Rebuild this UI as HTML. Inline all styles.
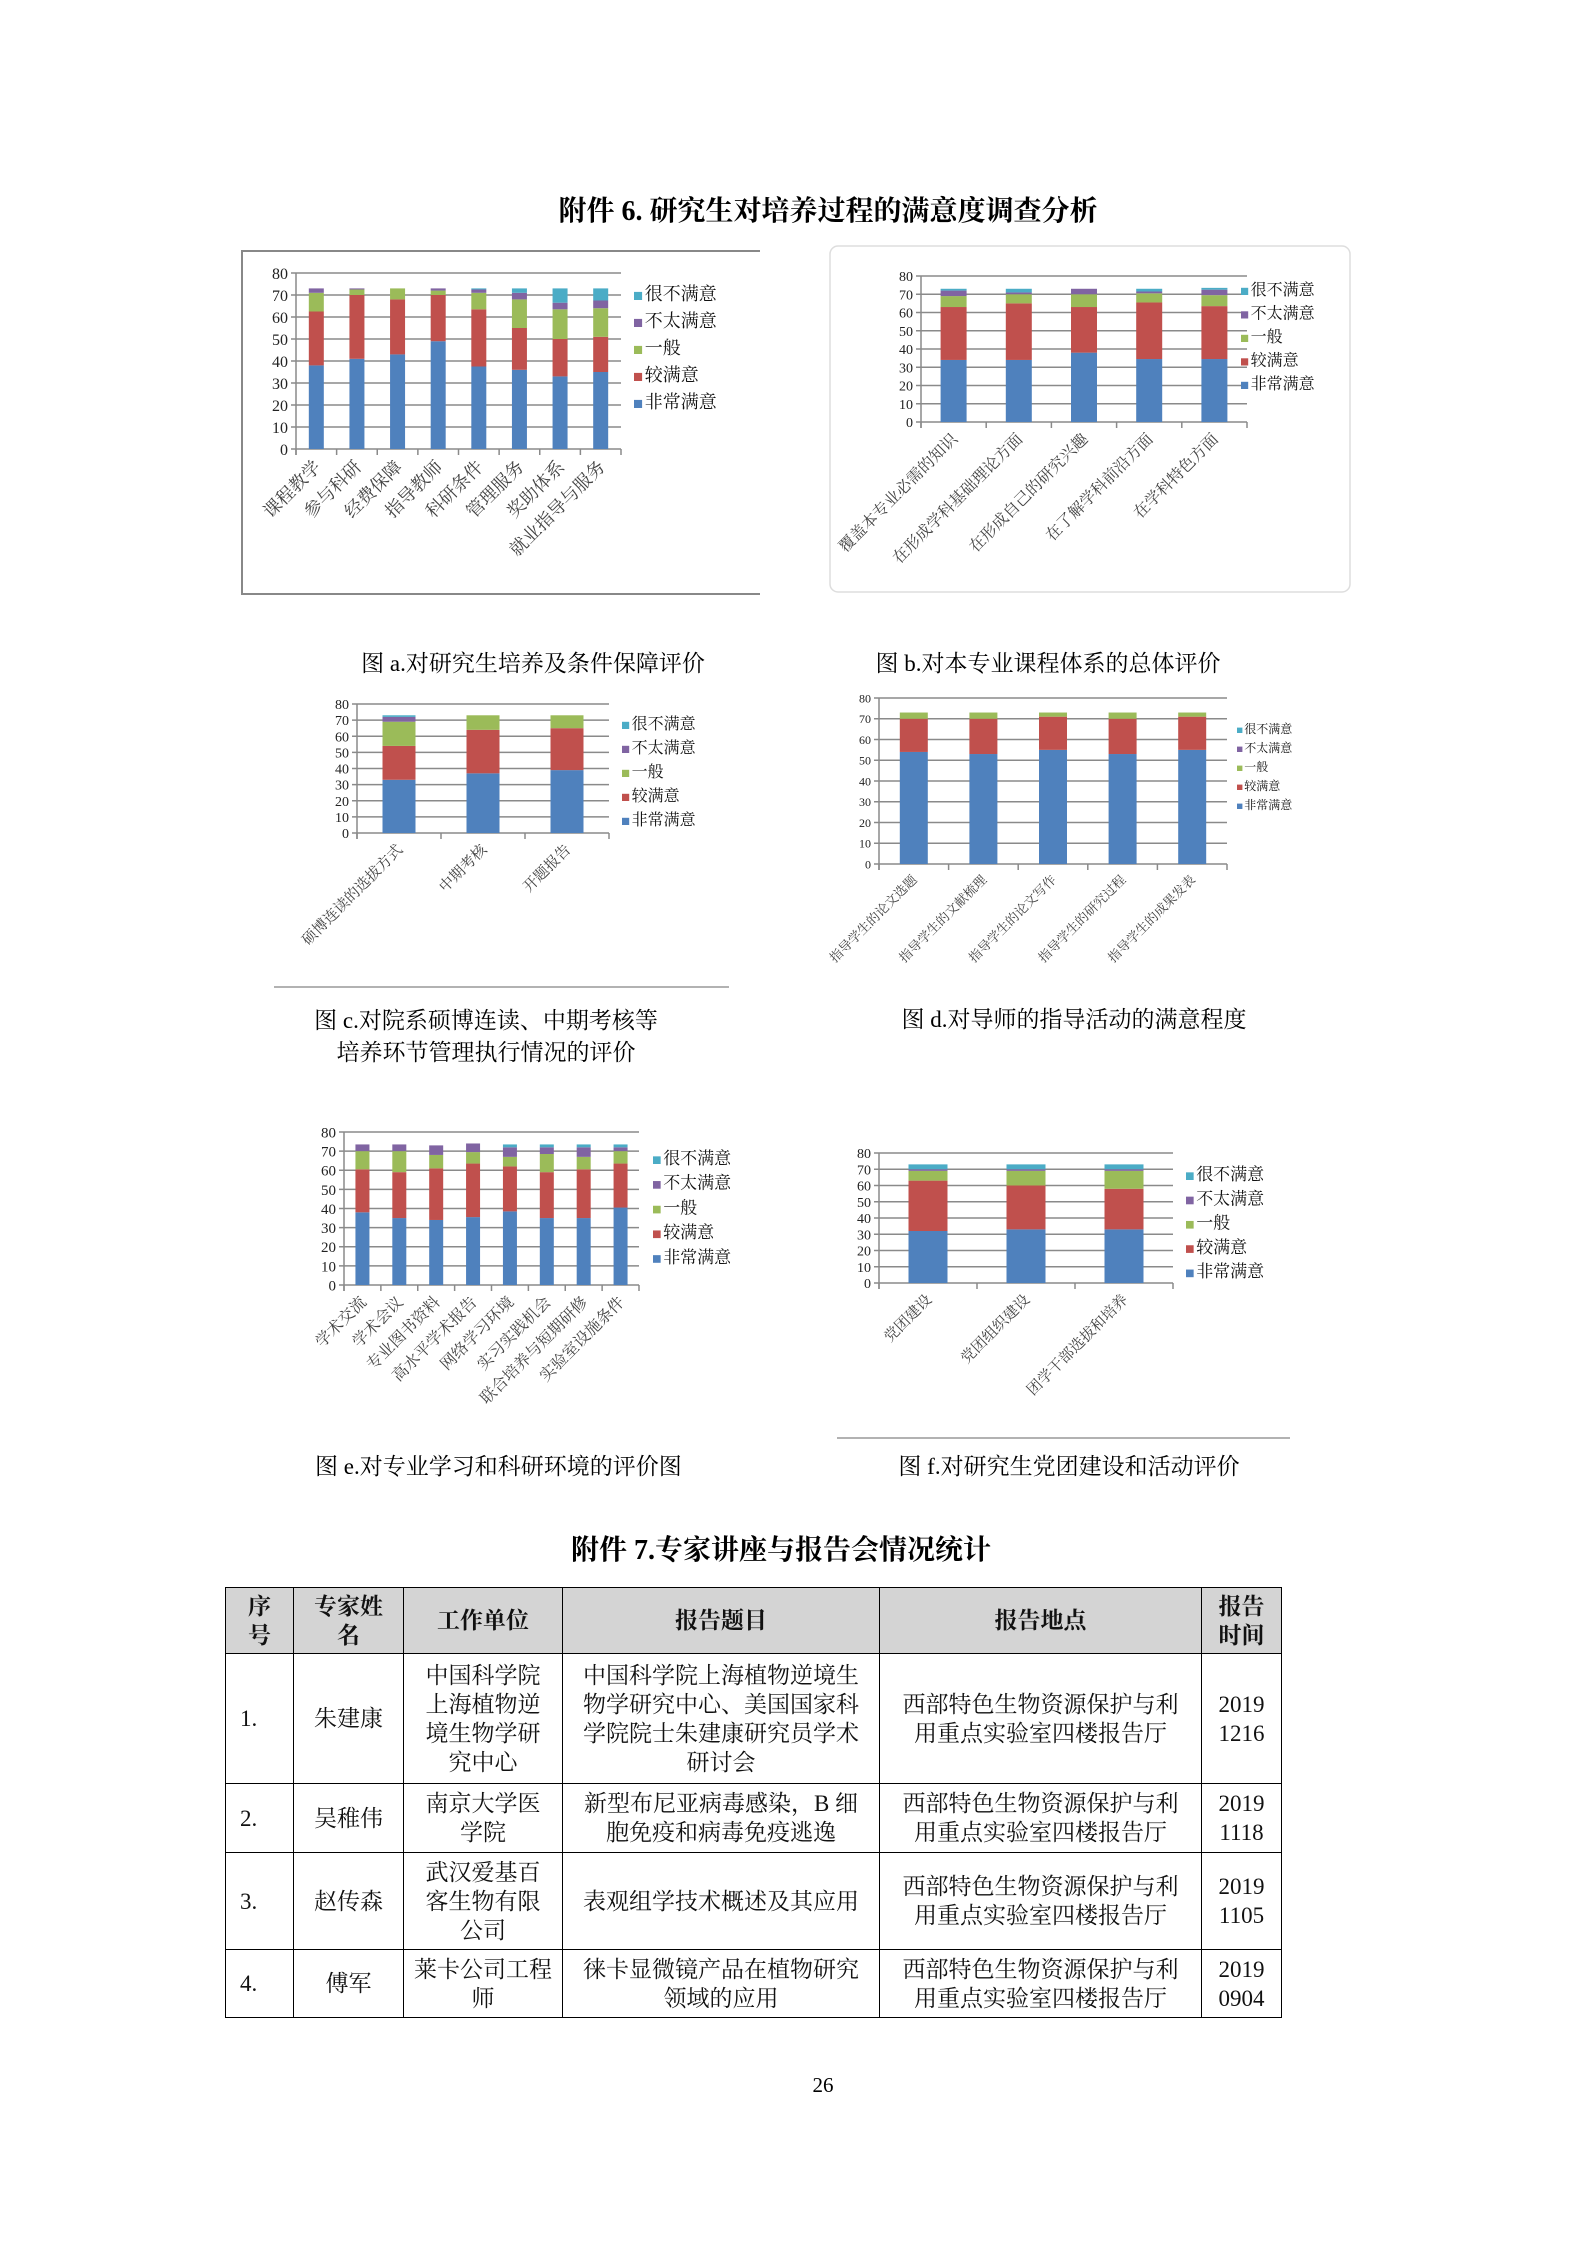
<!DOCTYPE html>
<html><head><meta charset="utf-8">
<style>
body{margin:0;background:#fff;}
#pg{position:relative;width:1587px;height:2245px;overflow:hidden;background:#fff;font-family:"Liberation Serif","Noto Serif CJK SC",serif;}
svg{position:absolute;left:0;top:0;}
table{position:absolute;left:225px;top:1587px;width:1056px;table-layout:fixed;border-collapse:collapse;font-family:"Liberation Serif","Noto Serif CJK SC",serif;font-size:23px;line-height:29px;color:#111;}
td,th{border:1.5px solid #000;text-align:center;vertical-align:middle;padding:0;overflow:hidden;white-space:nowrap;}
th{background:#d4d4d4;font-weight:bold;}
td.l{text-align:left;padding-left:14px;}
</style></head><body>
<div id="pg">
<svg id="sv" width="1587" height="2245" xmlns="http://www.w3.org/2000/svg"></svg>
<table>
<colgroup><col style="width:68px"><col style="width:110px"><col style="width:159px"><col style="width:317px"><col style="width:322px"><col style="width:80px"></colgroup>
<tr style="height:66px"><th>序<br>号</th><th>专家姓<br>名</th><th>工作单位</th><th>报告题目</th><th>报告地点</th><th>报告<br>时间</th></tr>
<tr style="height:130px"><td class="l">1.</td><td>朱建康</td><td>中国科学院<br>上海植物逆<br>境生物学研<br>究中心</td><td>中国科学院上海植物逆境生<br>物学研究中心、美国国家科<br>学院院士朱建康研究员学术<br>研讨会</td><td>西部特色生物资源保护与利<br>用重点实验室四楼报告厅</td><td>2019<br>1216</td></tr>
<tr style="height:69px"><td class="l">2.</td><td>吴稚伟</td><td>南京大学医<br>学院</td><td>新型布尼亚病毒感染，B 细<br>胞免疫和病毒免疫逃逸</td><td>西部特色生物资源保护与利<br>用重点实验室四楼报告厅</td><td>2019<br>1118</td></tr>
<tr style="height:97px"><td class="l">3.</td><td>赵传森</td><td>武汉爱基百<br>客生物有限<br>公司</td><td>表观组学技术概述及其应用</td><td>西部特色生物资源保护与利<br>用重点实验室四楼报告厅</td><td>2019<br>1105</td></tr>
<tr style="height:68px"><td class="l">4.</td><td>傅军</td><td>莱卡公司工程<br>师</td><td>徕卡显微镜产品在植物研究<br>领域的应用</td><td>西部特色生物资源保护与利<br>用重点实验室四楼报告厅</td><td>2019<br>0904</td></tr>
</table>
</div>
<script>
const C=['#4f81bd','#c0504d','#9bbb59','#8064a2','#4bacc6'];
const LN=['很不满意','不太满意','一般','较满意','非常满意'];
const SANS='"Liberation Sans","Noto Sans CJK SC",sans-serif';
const SERIF='"Liberation Serif","Noto Serif CJK SC",serif';
let s='';
function chart(o){
 const n=o.cats.length,cw=(o.x1-o.x0)/n,h=o.yb-o.yt;
 for(let v=0;v<=80;v+=10){const y=o.yb-v/80*h;
  s+=`<line x1="${o.x0-5}" y1="${y}" x2="${o.x1}" y2="${y}" stroke="#8a8a8a" stroke-width="1.5"/>`;
  s+=`<text x="${o.x0-8}" y="${y+o.fs*0.36}" font-size="${o.fs}" text-anchor="end" font-family="${SANS}" fill="#222">${v}</text>`;}
 s+=`<line x1="${o.x0}" y1="${o.yt}" x2="${o.x0}" y2="${o.yb+6}" stroke="#8a8a8a" stroke-width="1.5"/>`;
 for(let i=0;i<=n;i++){const x=o.x0+i*cw;s+=`<line x1="${x}" y1="${o.yb}" x2="${x}" y2="${o.yb+6}" stroke="#8a8a8a" stroke-width="1.5"/>`;}
 o.data.forEach((d,i)=>{const cx=o.x0+(i+.5)*cw;let acc=0;
  d.forEach((v,k)=>{if(!v)return;const y1=o.yb-(acc+v)/80*h,hh=v/80*h;
   s+=`<rect x="${cx-o.bw/2}" y="${y1}" width="${o.bw}" height="${hh}" fill="${C[k]}"/>`;acc+=v;});
  const tx=cx+o.cfs*0.3,ty=o.yb+10+o.cfs*0.5;
  s+=`<text x="${tx}" y="${ty}" font-size="${o.cfs}" text-anchor="end" font-family="${SERIF}" fill="#444" transform="rotate(-45 ${tx} ${ty})">${o.cats[i]}</text>`;});
 for(let k=0;k<5;k++){const y=o.ly+k*o.ldy;
  s+=`<rect x="${o.lx}" y="${y-o.lfs*0.45}" width="${o.lfs*0.45}" height="${o.lfs*0.45}" fill="${C[4-k]}"/>`;
  s+=`<text x="${o.lx+o.lfs*0.6}" y="${y}" font-size="${o.lfs}" font-family="${SANS}" fill="#111">${LN[k]}</text>`;}
}
s+=`<text x="828" y="220" font-size="28" font-weight="bold" text-anchor="middle" font-family="${SERIF}">附件 6.  研究生对培养过程的满意度调查分析</text>`;
s+=`<path d="M760 251 H242 V594 H760" fill="none" stroke="#888" stroke-width="2"/>`;
s+=`<rect x="830" y="246" width="520" height="346" rx="8" fill="none" stroke="#ddd" stroke-width="1.5"/>`;
chart({x0:296,x1:621,yt:273,yb:449,bw:15,fs:16,lfs:18,cfs:18,lx:634,ly:300,ldy:27,
 cats:['课程教学','参与科研','经费保障','指导教师','科研条件','管理服务','奖助体系','就业指导与服务'],
 data:[[38,24.5,8.5,2,0],[41,29,2.5,.5,0],[43,25,5,0,0],[49,21,2,1,0],[37.5,26,7.5,1.5,.5],[36,19,13,3,2],[33,17,13.5,3,6.5],[35,16,13,3.5,5.5]]});
chart({x0:921,x1:1247,yt:276,yb:422,bw:26,fs:14,lfs:16,cfs:16,lx:1241,ly:295,ldy:23.5,
 cats:['覆盖本专业必需的知识','在形成学科基础理论方面','在形成自己的研究兴趣','在了解学科前沿方面','在学科特色方面'],
 data:[[34,29,6,3,1],[34,31,5,1,2],[38,25,7,3,0],[34.5,31,5,1,1.5],[34.5,29,6,3,1]]});
s+=`<text x="533" y="671" font-size="23" text-anchor="middle" font-family="${SERIF}">图 a.对研究生培养及条件保障评价</text>`;
s+=`<text x="1048" y="671" font-size="23" text-anchor="middle" font-family="${SERIF}">图 b.对本专业课程体系的总体评价</text>`;
chart({x0:357,x1:609,yt:704,yb:833,bw:33,fs:14,lfs:16,cfs:15,lx:622,ly:729,ldy:24,
 cats:['硕博连读的选拔方式','中期考核','开题报告'],
 data:[[33,21,15,3,1],[37,27,9,0,0],[39,26,8,0,0]]});
chart({x0:879,x1:1227,yt:698,yb:864,bw:28,fs:12,lfs:12,cfs:13,lx:1237,ly:733,ldy:19,
 cats:['指导学生的论文选题','指导学生的文献梳理','指导学生的论文写作','指导学生的研究过程','指导学生的成果发表'],
 data:[[54,16,3,0,0],[53,17,3,0,0],[55,16,2,0,0],[53,17,3,0,0],[55,16,2,0,0]]});
s+=`<line x1="274" y1="987" x2="729" y2="987" stroke="#999" stroke-width="1.5"/>`;
s+=`<text x="486" y="1028" font-size="23" text-anchor="middle" font-family="${SERIF}">图 c.对院系硕博连读、中期考核等</text>`;
s+=`<text x="486" y="1060" font-size="23" text-anchor="middle" font-family="${SERIF}">培养环节管理执行情况的评价</text>`;
s+=`<text x="1074" y="1027" font-size="23" text-anchor="middle" font-family="${SERIF}">图 d.对导师的指导活动的满意程度</text>`;
chart({x0:344,x1:639,yt:1132,yb:1285,bw:14,fs:15,lfs:17,cfs:16,lx:653,ly:1164,ldy:24.7,
 cats:['学术交流','学术会议','专业图书资料','高水平学术报告','网络学习环境','实习实践机会','联合培养与短期研修','实验室设施条件'],
 data:[[38,22.5,9.5,3.5,0],[35,24,11,3.5,0],[34,27,7,5,0],[35.5,28,6,4.5,0],[38.5,23.5,5,5,1.5],[35,24,9.5,3.5,1.5],[35,25.5,6.5,5,1.5],[40.5,23,6.5,2,1.5]]});
chart({x0:879,x1:1173,yt:1153,yb:1283,bw:39,fs:14,lfs:17,cfs:15,lx:1186,ly:1180,ldy:24.3,
 cats:['党团建设','党团组织建设','团学干部选拔和培养'],
 data:[[32,31,6,1,3],[33,27,9,1,3],[33,25,11,1,3]]});
s+=`<line x1="837" y1="1438" x2="1290" y2="1438" stroke="#999" stroke-width="1.5"/>`;
s+=`<text x="315" y="1474" font-size="23" font-family="${SERIF}">图 e.对专业学习和科研环境的评价图</text>`;
s+=`<text x="1069" y="1474" font-size="23" text-anchor="middle" font-family="${SERIF}">图 f.对研究生党团建设和活动评价</text>`;
s+=`<text x="781" y="1559" font-size="28" font-weight="bold" text-anchor="middle" font-family="${SERIF}">附件 7.专家讲座与报告会情况统计</text>`;
s+=`<text x="823" y="2108" font-size="21" text-anchor="middle" font-family="${SERIF}">26</text>`;
s=s.replace('y="2108"','y="2109"');
document.getElementById('sv').innerHTML=s.replace('>26</text>','>26</text>').replace('y="2109" font-size="21"','y="2092" font-size="21"');
</script>
</body></html>
